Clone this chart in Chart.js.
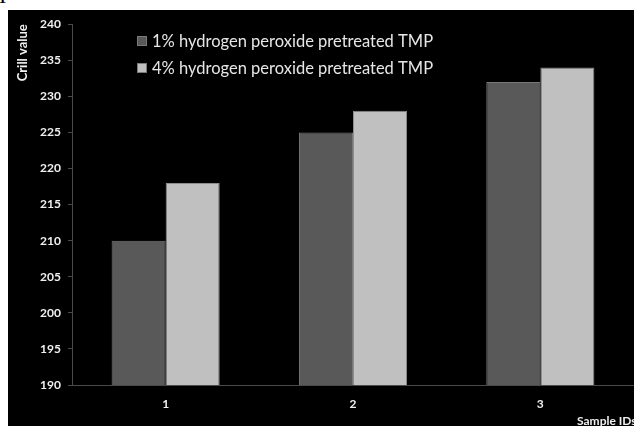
<!DOCTYPE html>
<html>
<head>
<meta charset="utf-8">
<script src="https://cdn.jsdelivr.net/npm/chart.js@4"></script>
<style>
  html, body { margin:0; padding:0; background:#fff; width:634px; height:426px; overflow:hidden; }
  #frag { position:absolute; left:-1px; top:-14px; font-family:"Liberation Serif", serif; font-size:22px; color:#000; line-height:20px; }
  #wrap { position:absolute; left:8px; top:10px; width:626px; height:416px; background:#000; }
  canvas { display:block; }
</style>
</head>
<body>
<div id="frag">I</div>
<div id="wrap"><canvas id="c" width="626" height="416"></canvas></div>
<script>
const categories = ['1', '2', '3'];
const seriesNames = ['1% hydrogen peroxide pretreated TMP', '4% hydrogen peroxide pretreated TMP'];
const series1 = [210, 225, 232];
const series2 = [218, 228, 234];
const yMin = 190, yMax = 240, yStep = 5;
const yTitle = 'Crill value';
const xTitle = 'Sample IDs';

const overlay = {
  id: 'overlay',
  afterDraw(chart) {
    const ctx = chart.ctx;
    const area = chart.chartArea;
    ctx.save();
    // legend
    const legY = [31, 58];
    chart.data.datasets.forEach((ds, i) => {
      ctx.fillStyle = ds.backgroundColor;
      ctx.fillRect(129, legY[i] - 5, 10, 10);
      ctx.strokeStyle = '#7a7a7a';
      ctx.lineWidth = 1;
      ctx.strokeRect(129.5, legY[i] - 4.5, 9, 9);
      let size = 16;
      ctx.font = size + 'px Lato';
      const w = ctx.measureText(ds.label).width;
      size = size * 281 / w;
      ctx.font = size.toFixed(2) + 'px Lato';
      ctx.fillStyle = '#e6e6e6';
      ctx.textBaseline = 'middle';
      ctx.textAlign = 'left';
      ctx.fillText(ds.label, 144, legY[i] + 1);
    });
    // y title
    ctx.font = 'bold 13px Lato';
    ctx.fillStyle = '#f0f0f0';
    ctx.translate(15, area.top);
    ctx.rotate(-Math.PI / 2);
    ctx.textAlign = 'right';
    ctx.textBaseline = 'middle';
    ctx.fillText(yTitle, 0, 0);
    ctx.restore();
    // x title
    ctx.save();
    ctx.font = 'bold 12px Lato';
    ctx.fillStyle = '#f0f0f0';
    ctx.textAlign = 'left';
    ctx.textBaseline = 'middle';
    ctx.fillText(xTitle, 569, 411);
    ctx.restore();
  }
};

new Chart(document.getElementById('c'), {
  type: 'bar',
  data: {
    labels: categories,
    datasets: [
      { label: seriesNames[0], data: series1, backgroundColor: '#595959', borderColor: '#787878', borderWidth: 1 },
      { label: seriesNames[1], data: series2, backgroundColor: '#c0c0c0', borderColor: '#8c8c8c', borderWidth: 1 }
    ]
  },
  options: {
    responsive: false,
    animation: false,
    devicePixelRatio: 1,
    layout: { padding: { top: 10, right: 0, left: 0, bottom: 0 } },
    categoryPercentage: 0.577,
    barPercentage: 1,
    plugins: { legend: { display: false }, tooltip: { enabled: false } },
    scales: {
      x: {
        grid: { display: false },
        border: { display: true, color: '#4a4a4a', width: 1 },
        ticks: { color: '#f0f0f0', font: { family: 'Lato', weight: 'bold', size: 12 }, padding: 4 },
        afterFit(s) { s.height = 41; }
      },
      y: {
        min: yMin, max: yMax,
        grid: { drawOnChartArea: false, drawTicks: true, tickLength: 4, color: '#4a4a4a' },
        border: { display: true, color: '#4a4a4a', width: 1 },
        ticks: { stepSize: yStep, color: '#f0f0f0', font: { family: 'Lato', weight: 'bold', size: 12 }, padding: 7 },
        afterFit(s) { s.width = 64; }
      }
    }
  },
  plugins: [overlay]
});
</script>
</body>
</html>
